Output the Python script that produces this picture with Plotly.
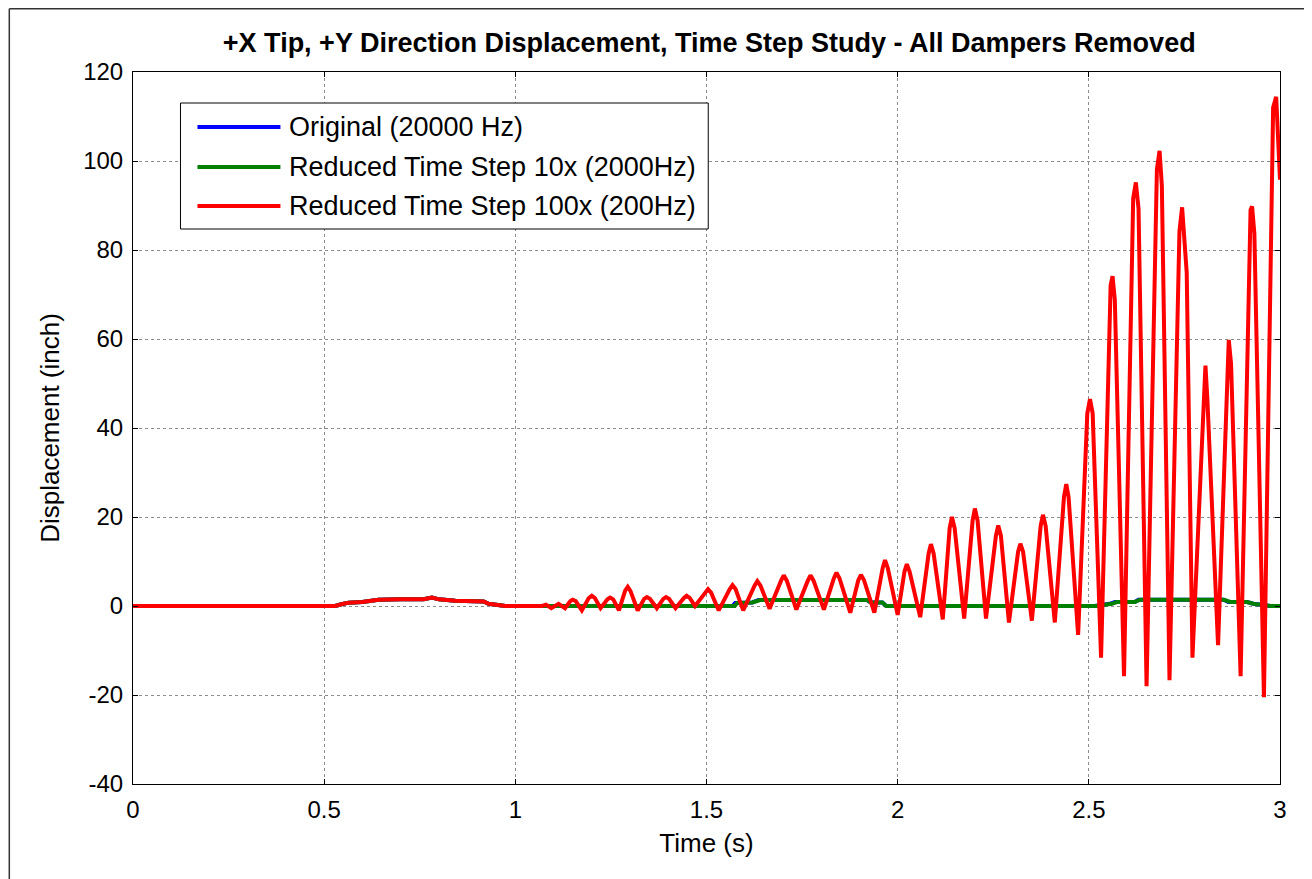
import plotly.graph_objects as go

# ---- data ----
base_t = [0, 0.529, 0.545, 0.564, 0.60, 0.642, 0.70, 0.76, 0.782, 0.80, 0.843, 0.917, 0.93, 0.974, 1.0]
base_v = [0, 0, 0.4, 0.75, 0.9, 1.4, 1.5, 1.5, 1.9, 1.5, 1.2, 1.0, 0.5, 0, 0]

green_t = [1.574, 1.58, 1.62, 1.64, 1.92, 1.93, 1.96, 1.97, 2.52, 2.56, 2.573, 2.62, 2.634, 2.853, 2.87, 2.914, 2.93, 2.975, 3.0]
green_v = [0, 0.7, 0.8, 1.35, 1.35, 0.8, 0.8, 0, 0, 0.5, 0.9, 0.9, 1.4, 1.4, 0.9, 0.9, 0.5, 0, 0]

blue_t = [1.568, 1.575, 1.62, 1.636, 1.92, 1.93, 1.96, 1.97, 2.515, 2.555, 2.568, 2.62, 2.63, 2.853, 2.865, 2.914, 2.93, 2.975, 3.0]
blue_v = [0, 0.7, 0.8, 1.35, 1.35, 0.8, 0.8, 0, 0, 0.5, 0.9, 0.9, 1.4, 1.4, 0.9, 0.9, 0.5, 0, 0]

red_t = [1.07, 1.08, 1.094, 1.113, 1.13, 1.144, 1.15, 1.158, 1.174,
         1.192, 1.20, 1.208, 1.223, 1.241, 1.248, 1.256, 1.271,
         1.287, 1.294, 1.301, 1.32, 1.337, 1.344, 1.352, 1.37,
         1.387, 1.394, 1.402, 1.419, 1.441, 1.448, 1.456, 1.47,
         1.497, 1.504, 1.512, 1.532, 1.561, 1.568, 1.576, 1.596,
         1.626, 1.633, 1.641, 1.665, 1.695, 1.702, 1.710, 1.735,
         1.765, 1.772, 1.780, 1.807, 1.833, 1.84, 1.848, 1.876,
         1.897, 1.904, 1.912, 1.939, 1.961, 1.967, 1.974, 2.0,
         2.018, 2.024, 2.031, 2.059, 2.081, 2.087, 2.094, 2.118,
         2.136, 2.142, 2.149, 2.174, 2.196, 2.202, 2.209, 2.231,
         2.257, 2.263, 2.270, 2.291, 2.315, 2.321, 2.328, 2.351,
         2.374, 2.380, 2.387, 2.411, 2.435, 2.441, 2.447, 2.472,
         2.496, 2.503, 2.51, 2.532, 2.557, 2.562, 2.568, 2.592, 2.616, 2.623, 2.63,
         2.651, 2.678, 2.685, 2.691, 2.711, 2.737, 2.744, 2.756, 2.771, 2.805, 2.81, 2.838,
         2.866, 2.872, 2.897, 2.923, 2.927, 2.933, 2.958, 2.982, 2.990, 3.0]
red_v = [0, 0.3, -0.5, 0.5, -0.5, 1.1, 1.4, 1.1, -1.0,
         1.8, 2.3, 1.8, -0.5, 1.5, 1.9, 1.5, -1.0,
         3.4, 4.3, 3.4, -1.0, 1.6, 2.0, 1.6, -0.5,
         1.6, 2.0, 1.6, -0.5, 1.8, 2.3, 1.8, 0,
         3.0, 3.8, 3.0, -1.0, 3.8, 4.7, 3.8, -1.0,
         4.6, 5.6, 4.6, -0.6, 5.7, 6.9, 5.7, -0.8,
         5.7, 6.9, 5.7, -0.8, 6.2, 7.5, 6.2, -1.5,
         5.8, 7.0, 5.8, -1.5, 8.6, 10.3, 8.6, -2.0,
         7.8, 9.4, 7.8, -2.5, 11.8, 13.9, 11.8, -3.0,
         17.5, 20, 17.5, -2.8, 19.2, 21.9, 19.2, -2.8,
         15.8, 18.1, 15.8, -3.7, 12.2, 14, 12.2, -3.3,
         18.0, 20.5, 18.0, -3.7, 24.5, 27.4, 24.5, -6.5,
         43.3, 46.5, 43.3, -11.6, 72, 74.1, 68.8, -15.8, 91.6, 95.2, 89.3,
         -18, 98.1, 102.3, 94.4, -16.7, 84.2, 89.6, 74.9, -11.6, 54, 46.5, -8.8,
         59.8, 54.4, -15.8, 89.0, 89.8, 83.7, -20.5, 112, 114.4, 95.8]

series_names = ["Original (20000 Hz)", "Reduced Time Step 10x (2000Hz)", "Reduced Time Step 100x (200Hz)"]
series_colors = ["#0000FF", "#008000", "#FF0000"]

x_ticks = [0, 0.5, 1, 1.5, 2, 2.5, 3]
y_ticks = [-40, -20, 0, 20, 40, 60, 80, 100, 120]

title_text = "+X Tip, +Y Direction Displacement, Time Step Study - All Dampers Removed"
x_title = "Time (s)"
y_title = "Displacement (inch)"

# ---- figure ----
OFF = 8                      # page body margin
W, H = 1304, 871
L, R, T, B = 132.5 - OFF, 1280 - OFF, 72 - OFF, 784 - OFF   # plot area in figure px


def px(x):   # reference page px -> paper x
    return (x - OFF - L) / (R - L)


def py(y):   # reference page px -> paper y
    return (B - (y - OFF)) / (B - T)


FONT = "Liberation Sans, Arial, sans-serif"

fig = go.Figure()
all_t = [base_t + blue_t, base_t + green_t, base_t + red_t]
all_v = [base_v + blue_v, base_v + green_v, base_v + red_v]
for name, col, t, v in zip(series_names, series_colors, all_t, all_v):
    fig.add_trace(go.Scatter(x=t, y=v, mode="lines", name=name,
                             line=dict(color=col, width=4), showlegend=False))

axis_common = dict(showline=True, linecolor="black", linewidth=1, mirror="allticks",
                   ticks="inside", ticklen=5, tickcolor="black",
                   showgrid=True, gridcolor="#8c8c8c", griddash="dot", gridwidth=1,
                   zeroline=False, tickfont=dict(family=FONT, size=24, color="black"))

fig.update_layout(
    width=W, height=H,
    paper_bgcolor="white", plot_bgcolor="white",
    margin=dict(l=L, r=W - R, t=T, b=H - B),
    title=dict(text="<b>" + title_text + "</b>", x=px(709), xref="paper",
               y=1 - (43 - OFF) / H, yref="container", yanchor="middle", xanchor="center",
               font=dict(family=FONT, size=27, color="black")),
    xaxis=dict(range=[0, 3], tickvals=x_ticks, ticktext=[str(v) for v in x_ticks],
               title=dict(text=x_title, font=dict(family=FONT, size=26, color="black"), standoff=12),
               ticklabelstandoff=4, **axis_common),
    yaxis=dict(range=[-40, 120], tickvals=y_ticks, ticktext=[str(v) for v in y_ticks],
               title=dict(text=y_title, font=dict(family=FONT, size=26, color="black"), standoff=16),
               ticklabelstandoff=4, **axis_common),
)

shapes = []
# outer figure frame (left and top edges)
shapes.append(dict(type="line", xref="paper", yref="paper", x0=px(8.75), x1=px(8.75), y0=py(8.75), y1=py(900),
                   line=dict(color="#333333", width=1.5)))
shapes.append(dict(type="line", xref="paper", yref="paper", x0=px(8.75), x1=px(1340), y0=py(8.75), y1=py(8.75),
                   line=dict(color="#333333", width=1.5)))
# legend box
shapes.append(dict(type="rect", xref="paper", yref="paper", x0=px(180), x1=px(708), y0=py(229), y1=py(103),
                   line=dict(color="black", width=1), fillcolor="white", layer="above"))
annotations = []
rows = [127, 167, 206]
for name, col, ry in zip(series_names, series_colors, rows):
    shapes.append(dict(type="line", xref="paper", yref="paper", x0=px(197), x1=px(280), y0=py(ry), y1=py(ry),
                       line=dict(color=col, width=4), layer="above"))
    annotations.append(dict(text=name, xref="paper", yref="paper", x=px(287), y=py(ry),
                            xanchor="left", yanchor="middle", showarrow=False,
                            font=dict(family=FONT, size=27, color="black")))

fig.update_layout(shapes=shapes, annotations=annotations)
fig.write_html("out.html")
